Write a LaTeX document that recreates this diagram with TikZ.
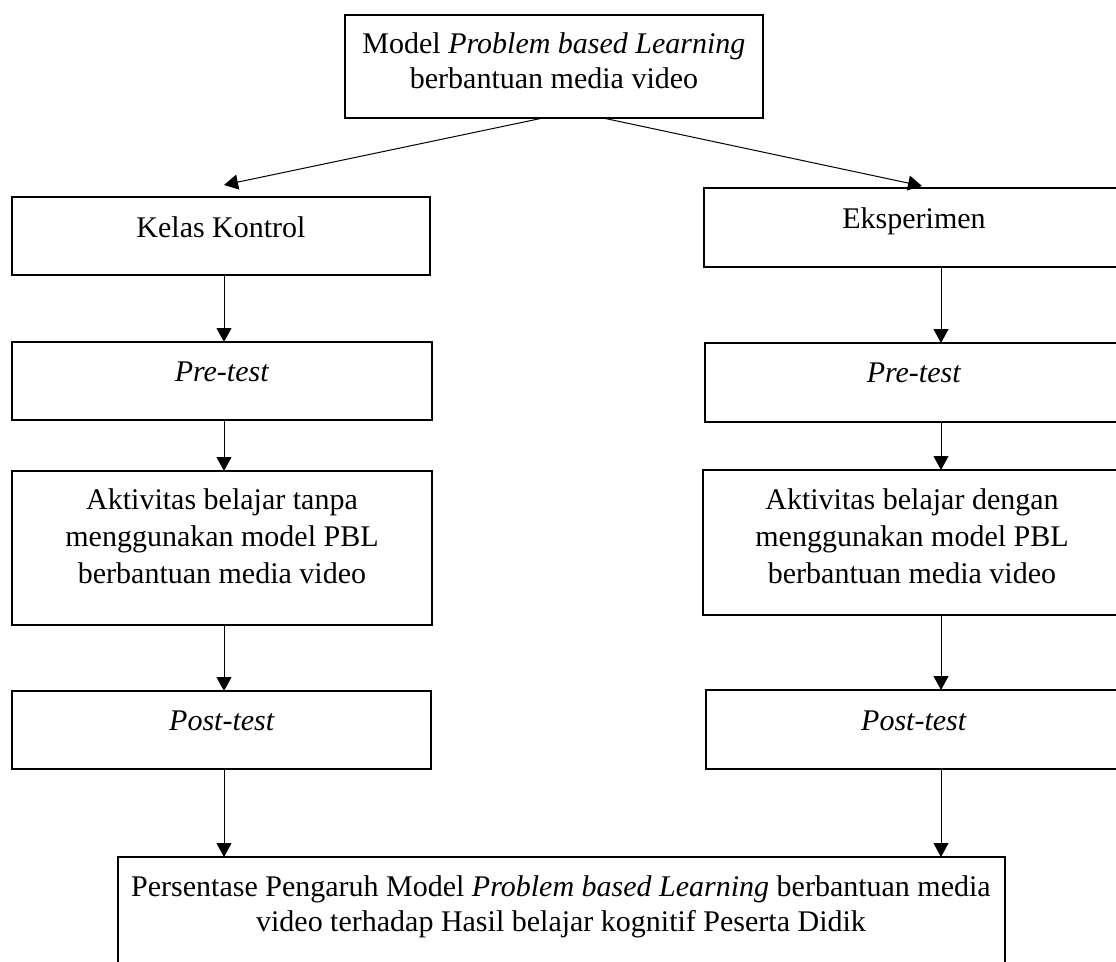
\documentclass[tikz,border=0pt]{standalone}
\usepackage{fontspec}
\setmainfont{Liberation Serif}
\usetikzlibrary{arrows.meta,calc}
\begin{document}
\begin{tikzpicture}[x=1pt,y=-1pt,
  box/.style={draw, line width=1.8pt, rectangle, inner sep=0pt, outer sep=0pt, anchor=north west},
  txt/.style={anchor=base, inner sep=0pt, font=\fontsize{30}{36}\selectfont, align=center},
  arr/.style={line width=1pt, -{Triangle[length=14pt,width=15pt]}}]
\useasboundingbox (0,0) rectangle (1116,961);
\clip (0,0) rectangle (1116,961);
\fill[white] (0,0) rectangle (1116,961);
% boxes
\node[box, minimum width=418pt, minimum height=103pt] (top) at (345,15) {};
\node[box, minimum width=418pt, minimum height=78pt] (kk) at (12,197) {};
\node[box, minimum width=430pt, minimum height=79pt] (ek) at (704,188) {};
\node[box, minimum width=420pt, minimum height=78pt] (pre1) at (12,342) {};
\node[box, minimum width=430pt, minimum height=79pt] (pre2) at (705,343) {};
\node[box, minimum width=420pt, minimum height=154pt] (akt1) at (12,471) {};
\node[box, minimum width=430pt, minimum height=145pt] (akt2) at (703,470) {};
\node[box, minimum width=419pt, minimum height=78pt] (post1) at (12,691) {};
\node[box, minimum width=430pt, minimum height=79pt] (post2) at (706,690) {};
\node[box, minimum width=887pt, minimum height=130pt] (hasil) at (118,857) {};
% texts (anchor base = baseline of the last line)
\node[txt, font=\fontsize{30}{35}\selectfont] (toptxt) at (554,88) {Model \textit{Problem based Learning}\\berbantuan media video};
\node[txt] (kktxt) at (221,237) {Kelas Kontrol};
\node[txt] (ektxt) at (914,228) {Eksperimen};
\node[txt] (pre1txt) at (222,381) {\textit{Pre-test}};
\node[txt] (pre2txt) at (914,382) {\textit{Pre-test}};
\node[txt, font=\fontsize{30}{37}\selectfont] (akt1txt) at (222,583) {Aktivitas belajar tanpa\\menggunakan model PBL\\berbantuan media video};
\node[txt, font=\fontsize{30}{37}\selectfont] (akt2txt) at (912,583) {Aktivitas belajar dengan\\menggunakan model PBL\\berbantuan media video};
\node[txt] (post1txt) at (222,730) {\textit{Post-test}};
\node[txt] (post2txt) at (914,730) {\textit{Post-test}};
\node[txt, font=\fontsize{30}{35}\selectfont] (hasiltxt) at (561,931) {Persentase Pengaruh Model \textit{Problem based Learning} berbantuan media\\video terhadap Hasil belajar kognitif Peserta Didik};
% connectors
\coordinate (lx) at (224,0);
\coordinate (rx) at (941,0);
\draw[arr] ([xshift=-11pt]top.south) -- ([xshift=3pt,yshift=12pt]kk.north);
\draw[arr] ([xshift=49pt]top.south) -- ([xshift=3pt,yshift=2pt]ek.north);
\draw[arr] (kk.south -| lx) -- (pre1.north -| lx);
\draw[arr] (pre1.south -| lx) -- (akt1.north -| lx);
\draw[arr] (akt1.south -| lx) -- (post1.north -| lx);
\draw[arr] (post1.south -| lx) -- (hasil.north -| lx);
\draw[arr] (ek.south -| rx) -- (pre2.north -| rx);
\draw[arr] (pre2.south -| rx) -- (akt2.north -| rx);
\draw[arr] (akt2.south -| rx) -- (post2.north -| rx);
\draw[arr] (post2.south -| rx) -- (hasil.north -| rx);
\end{tikzpicture}
\end{document}
